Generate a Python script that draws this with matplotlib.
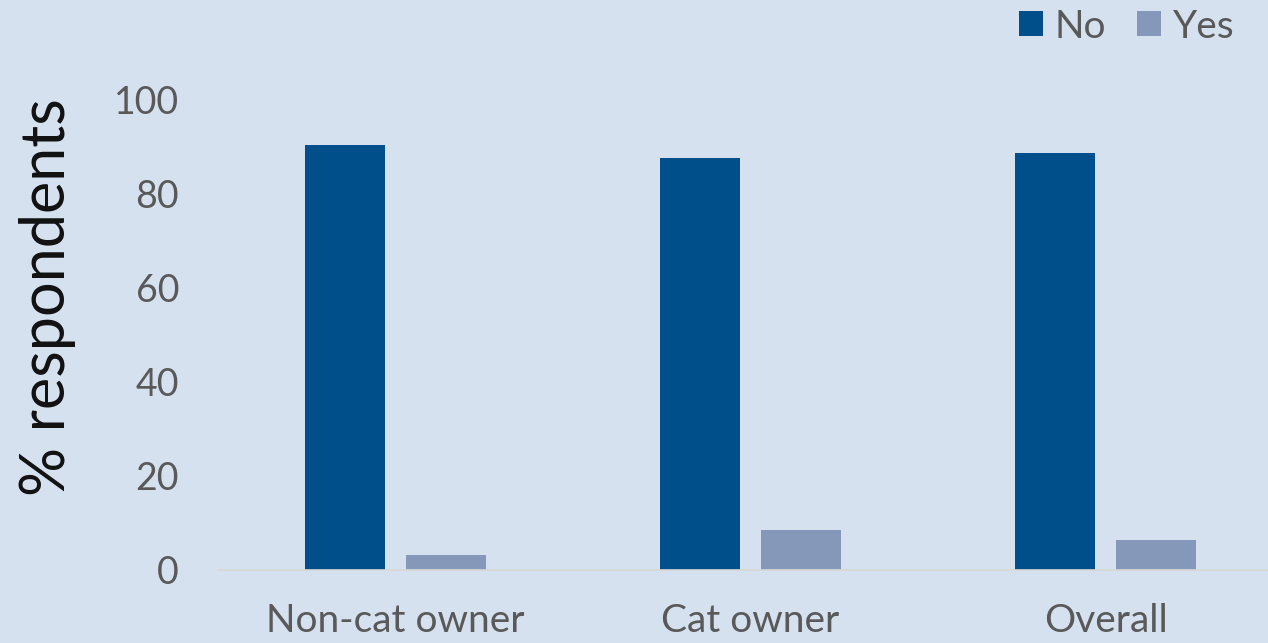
import matplotlib
matplotlib.use("Agg")
import matplotlib.pyplot as plt
import numpy as np

# data
groups = ["Non-cat owner", "Cat owner", "Overall"]
no_vals = [90.2, 87.4, 88.5]
yes_vals = [3.1, 8.5, 6.3]
yticks = [0, 20, 40, 60, 80, 100]

plt.rcParams["font.family"] = ["Lato", "DejaVu Sans"]

bg = "#d6e1f0"
fig = plt.figure(figsize=(12.68, 6.43), dpi=100, facecolor=bg)
ax = fig.add_axes([218 / 1268, 73 / 643, 1050 / 1268, 471 / 643])
ax.set_facecolor(bg)

x = np.arange(len(groups))
w = 0.225
off = 0.143
ax.bar(x - off, no_vals, w, color="#004f8a", label="No")
ax.bar(x + off, yes_vals, w, color="#8698b9", label="Yes")

ax.set_xlim(-0.5, -0.5 + 1050 / 355)
ax.set_ylim(0, 100)
ax.set_yticks(yticks)
ax.set_xticks(x)
ax.set_xticklabels(groups)
ax.tick_params(axis="y", length=0, labelsize=27, colors="#595959", pad=28)
ax.tick_params(axis="x", length=0, labelsize=28, colors="#595959", pad=24)
for s in ["top", "right", "left"]:
    ax.spines[s].set_visible(False)
ax.spines["bottom"].set_color("#d8d8d4")
ax.spines["bottom"].set_linewidth(1.2)

fig.text(48 / 1268, 1 - 297 / 643, "% respondents", rotation=90, ha="center", va="center",
         fontsize=44, color="#111111")

ax.legend(loc="upper right", bbox_to_anchor=(0.983, 1.225), ncol=2, frameon=False,
          fontsize=28, labelcolor="#595959", handlelength=0.62, handleheight=0.62,
          handletextpad=0.3, columnspacing=0.8, borderaxespad=0)

fig.savefig("out.png", dpi=100, facecolor=bg)
